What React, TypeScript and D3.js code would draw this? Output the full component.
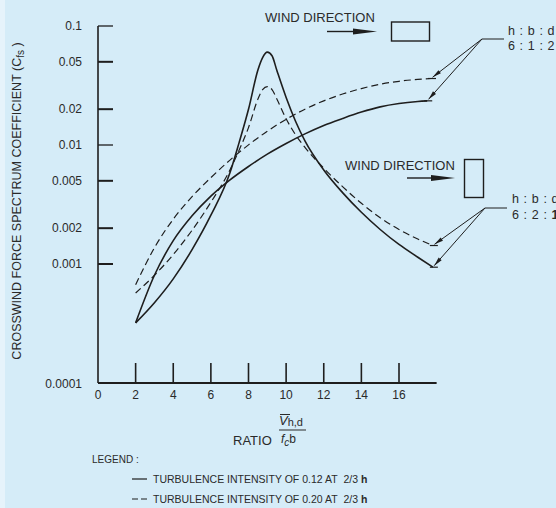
import React from 'react';
import * as d3 from 'd3';

// ---------- data ----------
const X_TICKS = [0, 2, 4, 6, 8, 10, 12, 14, 16];
const Y_TICKS = [0.1, 0.05, 0.02, 0.01, 0.005, 0.002, 0.001, 0.0001];
const Y_TICK_LABELS = ['0.1', '0.05', '0.02', '0.01', '0.005', '0.002', '0.001', '0.0001'];

// h:b:d = 6:1:2 (monotonic curves)
const RATIO_612_SOLID = [2, 3, 4, 5, 6, 7, 8, 9, 10, 11, 12, 13, 14, 15, 16, 17, 17.5];
const CFS_612_SOLID = [0.00032, 0.000804, 0.00157, 0.00254, 0.00372, 0.00507, 0.0066, 0.00838, 0.0103, 0.0124, 0.0146, 0.0167, 0.0189, 0.0209, 0.0223, 0.0232, 0.0235];
const RATIO_612_DASHED = [2, 3, 4, 5, 6, 7, 8, 9, 10, 11, 12, 13, 14, 15, 16, 17, 17.7];
const CFS_612_DASHED = [0.00067, 0.00137, 0.00238, 0.00368, 0.00532, 0.00743, 0.01002, 0.01306, 0.01644, 0.02, 0.0235, 0.0268, 0.0298, 0.0324, 0.0343, 0.0356, 0.0362];

// h:b:d = 6:2:1 (peaked curves)
const RATIO_621 = [2, 3, 4, 5, 6, 7, 7.5, 8, 8.5, 8.75, 9, 9.25, 9.5, 10, 10.5, 11, 12, 13, 14, 15, 16, 17, 17.8];
const CFS_621_SOLID = [0.00032, 0.000473, 0.00075, 0.00132, 0.00257, 0.00575, 0.01047, 0.01995, 0.0427, 0.0543, 0.0603, 0.0562, 0.0427, 0.0251, 0.01585, 0.01084, 0.00617, 0.00398, 0.00272, 0.00195, 0.00146, 0.00114, 0.00094];
const CFS_621_DASHED = [0.00057, 0.000804, 0.0012, 0.00192, 0.0033, 0.00611, 0.00904, 0.014, 0.0243, 0.0292, 0.031, 0.0292, 0.0245, 0.0166, 0.0122, 0.00955, 0.00638, 0.00447, 0.00324, 0.00245, 0.00195, 0.00162, 0.00143];

const LEGEND_ITEMS = [
  'TURBULENCE INTENSITY OF 0.12 AT\u00a0\u00a02/3 ',
  'TURBULENCE INTENSITY OF 0.20 AT\u00a0\u00a02/3 ',
];

// ---------- layout ----------
const W = 556;
const H = 508;
const BG = '#d5ecf8';
const INK = '#1e1e1e';
const TXT = '#2a2a2a';
const FONT = '"Liberation Sans", Arial, sans-serif';

const x = d3.scaleLinear().domain([0, 16]).range([98, 399]);
const y = d3.scaleLog().domain([0.0001, 0.1]).range([383, 26]);

const line = d3
  .line<[number, number]>()
  .x((d) => x(d[0]))
  .y((d) => y(d[1]))
  .curve(d3.curveMonotoneX);

const zip = (xs: number[], ys: number[]) => xs.map((v, i) => [v, ys[i]] as [number, number]);

const SERIES = [
  { pts: zip(RATIO_612_SOLID, CFS_612_SOLID), dashed: false },
  { pts: zip(RATIO_612_DASHED, CFS_612_DASHED), dashed: true },
  { pts: zip(RATIO_621, CFS_621_SOLID), dashed: false },
  { pts: zip(RATIO_621, CFS_621_DASHED), dashed: true },
];

const endOf = (pts: [number, number][]) => {
  const p = pts[pts.length - 1];
  return [x(p[0]), y(p[1])];
};

function Arrow({ x1, y1, x2, y2, len = 24, half = 3 }: any) {
  const ang = Math.atan2(y2 - y1, x2 - x1);
  const bx = x2 - len * Math.cos(ang);
  const by = y2 - len * Math.sin(ang);
  const nx = -Math.sin(ang) * half;
  const ny = Math.cos(ang) * half;
  return (
    <g>
      <line x1={x1} y1={y1} x2={bx} y2={by} stroke={INK} strokeWidth={1.4} />
      <path d={`M${x2},${y2}L${bx + nx},${by + ny}L${bx - nx},${by - ny}Z`} fill={INK} />
    </g>
  );
}

function Leader({ ox, oy, ends }: { ox: number; oy: number; ends: number[][] }) {
  return (
    <g>
      <line x1={ox} y1={oy} x2={ox + 22} y2={oy} stroke={INK} strokeWidth={1} />
      {ends.map(([ex, ey], i) => {
        const ang = Math.atan2(ey - oy, ex - ox);
        const tx = ex - 2 * Math.cos(ang);
        const ty = ey - 2 * Math.sin(ang);
        const bx = tx - 9 * Math.cos(ang);
        const by = ty - 9 * Math.sin(ang);
        const nx = -Math.sin(ang) * 2;
        const ny = Math.cos(ang) * 2;
        return (
          <g key={i}>
            <line x1={ox} y1={oy} x2={tx} y2={ty} stroke={INK} strokeWidth={1} />
            <path d={`M${tx},${ty}L${bx + nx},${by + ny}L${bx - nx},${by - ny}Z`} fill={INK} />
          </g>
        );
      })}
    </g>
  );
}

export default function App() {
  const ends612 = [endOf(SERIES[1].pts), endOf(SERIES[0].pts)];
  const ends621 = [endOf(SERIES[3].pts), endOf(SERIES[2].pts)];
  const axisEnd = x(18);
  return (
    <svg
      width={W}
      height={H}
      viewBox={`0 0 ${W} ${H}`}
      style={{ position: 'absolute', left: 0, top: 0, display: 'block' }}
      fontFamily={FONT}
    >
      <rect x={0} y={0} width={W} height={H} fill={BG} />
      <rect x={0} y={0} width={5} height={H} fill="#e6f3fb" />

      {/* axes */}
      <line x1={x(0)} y1={y(0.1)} x2={x(0)} y2={y(0.0001)} stroke={INK} strokeWidth={1.6} />
      <line x1={x(0)} y1={y(0.0001)} x2={axisEnd} y2={y(0.0001)} stroke={INK} strokeWidth={1.8} />
      {Y_TICKS.map((t, i) => (
        <g key={'yt' + i}>
          {t !== 0.0001 && (
            <line x1={x(0)} y1={y(t)} x2={x(0) + 15} y2={y(t)} stroke={INK} strokeWidth={t === 0.1 || t === 0.01 ? 1.3 : 2} />
          )}
          <text x={82} y={y(t) + (t === 0.0001 ? 5 : 4)} textAnchor="end" fontSize={12} fill={TXT}>
            {Y_TICK_LABELS[i]}
          </text>
        </g>
      ))}
      {X_TICKS.map((t) => (
        <g key={'xt' + t}>
          {t !== 0 && <line x1={x(t)} y1={y(0.0001)} x2={x(t)} y2={y(0.0001) - 20} stroke={INK} strokeWidth={1.6} />}
          <text x={x(t)} y={y(0.0001) + 16} textAnchor="middle" fontSize={12} fill={TXT}>
            {t}
          </text>
        </g>
      ))}

      {/* y axis title */}
      <text transform="translate(21,201) rotate(-90)" textAnchor="middle" fontSize={12.5} fill={TXT}>
        CROSSWIND FORCE SPECTRUM COEFFICIENT (C
        <tspan fontSize={10} dy={3}>fs</tspan>
        <tspan dy={-3}> )</tspan>
      </text>

      {/* x axis title */}
      <text x={233} y={445} fontSize={13} fill={TXT}>RATIO</text>
      <text x={279} y={425} fontSize={13} fill={TXT}>
        <tspan fontStyle="italic">V</tspan>
        <tspan fontSize={11} dy={1}>h,d</tspan>
      </text>
      <line x1={280} y1={414.5} x2={290} y2={414.5} stroke={TXT} strokeWidth={1} />
      <line x1={279} y1={430} x2={306} y2={430} stroke={TXT} strokeWidth={1} />
      <text x={281} y={443} fontSize={12} fill={TXT}>
        <tspan fontStyle="italic">f</tspan>
        <tspan fontSize={10} fontStyle="italic" dy={3}>c</tspan>
        <tspan fontSize={12} dy={-3}>b</tspan>
      </text>

      {/* curves */}
      {SERIES.map((s, i) => (
        <path
          key={'s' + i}
          d={line(s.pts) || ''}
          fill="none"
          stroke={INK}
          strokeWidth={s.dashed ? 1.2 : 1.6}
          strokeDasharray={s.dashed ? '7 4' : undefined}
        />
      ))}
      {/* end caps */}
      {SERIES.map((s, i) => {
        const [ex, ey] = endOf(s.pts);
        return <line key={'c' + i} x1={ex - 3} y1={ey} x2={ex + 5} y2={ey} stroke={INK} strokeWidth={1.2} />;
      })}

      {/* annotations: 6:1:2 */}
      <text x={265} y={22} fontSize={13} fill={TXT}>WIND DIRECTION</text>
      <Arrow x1={327} y1={31.5} x2={377} y2={31.5} />
      <rect x={391.5} y={22} width={38} height={19} fill="none" stroke={INK} strokeWidth={1.4} />
      <Leader ox={482} oy={39} ends={ends612} />
      <text x={508} y={35} fontSize={12.5} letterSpacing={0.6} fill={TXT}>h : b : d</text>
      <text x={508} y={50} fontSize={12.5} letterSpacing={0.6} fill={TXT}>6 : 1 : 2</text>

      {/* annotations: 6:2:1 */}
      <text x={345} y={170} fontSize={13} fill={TXT}>WIND DIRECTION</text>
      <Arrow x1={407} y1={178} x2={455} y2={178} />
      <rect x={464.5} y={159.5} width={19} height={38} fill="none" stroke={INK} strokeWidth={1.4} />
      <Leader ox={485} oy={208} ends={ends621} />
      <text x={512} y={203} fontSize={12.5} letterSpacing={0.6} fill={TXT}>h : b : d</text>
      <text x={512} y={219} fontSize={12.5} letterSpacing={0.6} fill={TXT}>
        6 : 2 : <tspan fontWeight="bold">1</tspan>
      </text>

      {/* legend */}
      <text x={92} y={463} fontSize={10} fill={TXT}>LEGEND :</text>
      <line x1={132} y1={479} x2={147} y2={479} stroke={INK} strokeWidth={1.2} />
      <text x={153} y={483} fontSize={10.5} fill={TXT}>
        {LEGEND_ITEMS[0]}
        <tspan fontWeight="bold">h</tspan>
      </text>
      <line x1={132} y1={499} x2={147} y2={499} stroke={INK} strokeWidth={1.2} strokeDasharray="6 3" />
      <text x={153} y={503} fontSize={10.5} fill={TXT}>
        {LEGEND_ITEMS[1]}
        <tspan fontWeight="bold">h</tspan>
      </text>
    </svg>
  );
}
